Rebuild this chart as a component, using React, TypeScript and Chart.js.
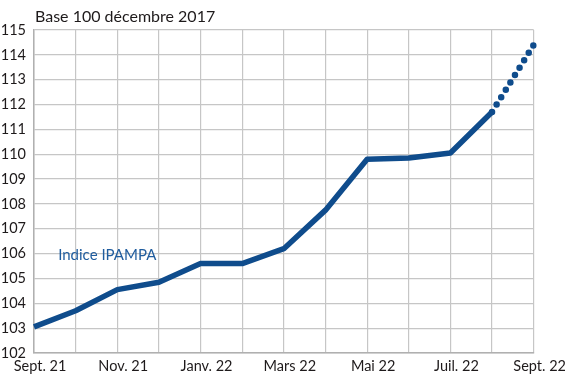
import React, { useEffect, useRef } from "react";
import { Chart, registerables } from "chart.js";

Chart.register(...registerables);

const months = [
  "Sept. 21", "Oct. 21", "Nov. 21", "Déc. 21", "Janv. 22", "Févr. 22", "Mars 22",
  "Avr. 22", "Mai 22", "Juin 22", "Juil. 22", "Août 22", "Sept. 22",
];
const ipampa = [103.05, 103.7, 104.55, 104.85, 105.6, 105.6, 106.2, 107.75, 109.8, 109.85, 110.05, 111.7, null];
const projection = [null, null, null, null, null, null, null, null, null, null, null, 111.7, 114.4];
const titleText = "Base 100 décembre 2017";
const seriesLabel = "Indice IPAMPA";

const LINE = "#0f4c8c";
const GRID = "#c6c6c6";
const FONT = "Lato, 'Open Sans', sans-serif";

export default function App() {
  const ref = useRef<HTMLCanvasElement | null>(null);
  useEffect(() => {
    document.body.style.margin = "0";
    const ctx = ref.current!;
    const textPlugin = {
      id: "texts",
      afterDraw(chart: any) {
        const c = chart.ctx;
        const area = chart.chartArea;
        c.save();
        c.fillStyle = "#1e1a1b";
        c.font = `16px ${FONT}`;
        c.textAlign = "left";
        c.textBaseline = "alphabetic";
        c.fillText(titleText, area.left + 1, 22);
        const xs = chart.scales.x;
        const ys = chart.scales.y;
        c.fillStyle = "#1f5c9e";
        c.font = `15px ${FONT}`;
        c.fillText(seriesLabel, xs.getPixelForValue(0.58), ys.getPixelForValue(105.75));
        c.restore();
      },
    };
    const chart = new Chart(ctx, {
      type: "line",
      data: {
        labels: months,
        datasets: [
          {
            data: ipampa as any,
            borderColor: LINE,
            borderWidth: 5.5,
            pointRadius: 0,
            tension: 0,
            borderJoinStyle: "round",
            borderCapStyle: "butt",
            spanGaps: false,
          },
          {
            data: projection as any,
            borderColor: LINE,
            borderWidth: 6.5,
            pointRadius: 0,
            tension: 0,
            borderDash: [0, 8.7],
            borderDashOffset: 0,
            borderCapStyle: "round",
            spanGaps: false,
          },
        ],
      },
      options: {
        animation: false,
        responsive: false,
        maintainAspectRatio: false,
        layout: { padding: { top: 30, right: 30, left: 0, bottom: 0 } },
        plugins: { legend: { display: false }, tooltip: { enabled: false }, title: { display: false } },
        scales: {
          x: {
            type: "category",
            offset: false,
            grid: { color: GRID, lineWidth: 1.2, drawTicks: false },
            border: { color: "#b0b0b0", width: 1.5 },
            ticks: {
              autoSkip: false,
              maxRotation: 0,
              padding: 5,
              labelOffset: 6,
              color: "#1e1a1b",
              font: { family: FONT, size: 14.5 },
              callback: (v: any, i: number) => (i % 2 === 0 ? months[i] : ""),
            },
            afterFit: (s: any) => { s.height = 24; },
          },
          y: {
            min: 102,
            max: 115,
            grid: { color: GRID, lineWidth: 1.2, drawTicks: false },
            border: { color: "#b0b0b0", width: 1.5 },
            ticks: {
              stepSize: 1,
              padding: 8,
              color: "#1e1a1b",
              font: { family: FONT, size: 14.5 },
            },
            afterFit: (s: any) => { s.width = 34; },
          },
        },
      },
      plugins: [textPlugin],
    });
    return () => chart.destroy();
  }, []);
  return <canvas ref={ref} width={565} height={377} style={{ display: "block" }} />;
}
